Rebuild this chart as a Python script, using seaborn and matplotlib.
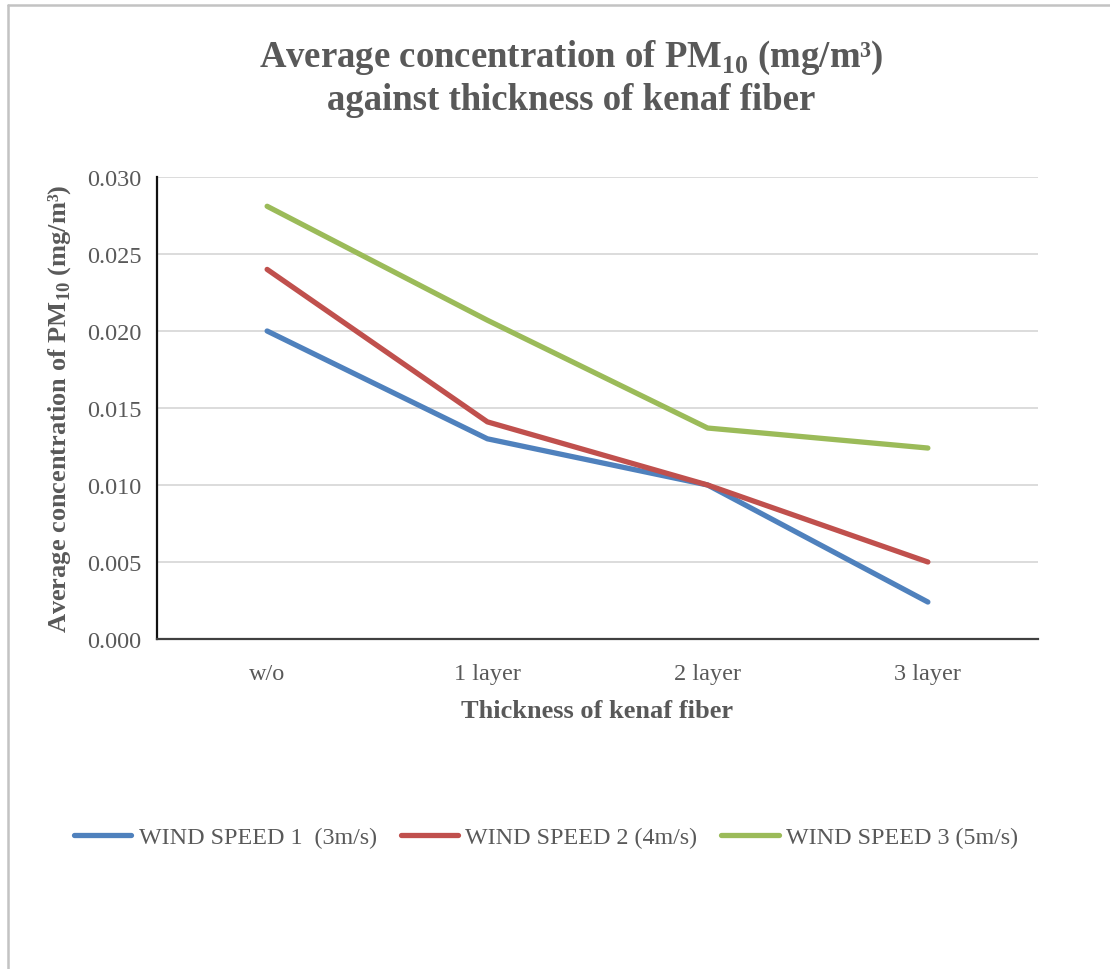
import matplotlib
matplotlib.use("Agg")
import matplotlib.pyplot as plt
from matplotlib.lines import Line2D
import pandas as pd
import seaborn as sns

# Data
thickness = ["w/o", "1 layer", "2 layer", "3 layer"]
series_names = ["WIND SPEED 1  (3m/s)", "WIND SPEED 2 (4m/s)", "WIND SPEED 3 (5m/s)"]
wind1 = [0.0200, 0.0130, 0.0100, 0.0024]
wind2 = [0.0240, 0.0141, 0.0100, 0.0050]
wind3 = [0.0281, 0.0207, 0.0137, 0.0124]
y_ticks = [0.000, 0.005, 0.010, 0.015, 0.020, 0.025, 0.030]
colors = ["#4F81BD", "#C0504D", "#9BBB59"]

rows = []
for name, vals in zip(series_names, [wind1, wind2, wind3]):
    for cat, v in zip(thickness, vals):
        rows.append({"Thickness": cat, "Concentration": v, "Series": name})
df = pd.DataFrame(rows)

sns.set_theme(style="white")
plt.rcParams["font.family"] = ["Liberation Serif", "DejaVu Serif"]
plt.rcParams["mathtext.fontset"] = "custom"
plt.rcParams["mathtext.rm"] = "Liberation Serif"
plt.rcParams["mathtext.bf"] = "Liberation Serif:bold"

text_grey = "#595959"

fig = plt.figure(figsize=(11.1, 9.7), dpi=100)
ax = fig.add_axes([157 / 1110, 1 - 640 / 970, (1038 - 157) / 1110, (640 - 178) / 970])

sns.lineplot(data=df, x="Thickness", y="Concentration", hue="Series",
             palette=colors, linewidth=3.8, ax=ax, sort=False,
             solid_capstyle="round", legend=False)

ax.set_xlim(-0.5, 3.5)
ax.set_ylim(0, 0.030)
ax.set_yticks(y_ticks)
ax.set_yticklabels([f"{t:.3f}" for t in y_ticks], fontsize=17.5, color=text_grey)
ax.set_xticks(range(len(thickness)))
ax.set_xticklabels(thickness, fontsize=17.5, color=text_grey)
ax.tick_params(axis="y", length=0, pad=11)
ax.tick_params(axis="x", length=0, pad=17)

ax.grid(axis="y", color="#d9d9d9", linewidth=1.3)
ax.set_axisbelow(True)
for side in ["top", "right"]:
    ax.spines[side].set_visible(False)
ax.spines["left"].set_color("#111111")
ax.spines["left"].set_linewidth(1.6)
ax.spines["bottom"].set_color("#404040")
ax.spines["bottom"].set_linewidth(1.6)

ax.set_xlabel("Thickness of kenaf fiber", fontsize=19, fontweight="bold",
              color=text_grey)
ax.xaxis.set_label_coords(0.50, (640 - 712) / (640 - 178), transform=ax.transAxes)
ax.xaxis.label.set_va("center")
ax.set_ylabel(r"Average concentration of PM$_{\mathbf{10}}$ (mg/m³)", fontsize=19,
              fontweight="bold", color=text_grey)
ax.yaxis.set_label_coords((60 - 157) / (1038 - 157), 0.50)
ax.yaxis.label.set_va("center")

fig.text(571 / 1110, 1 - 58 / 970,
         r"Average concentration of PM$_{\mathbf{10}}$ (mg/m³)",
         ha="center", va="center", fontsize=26.5, fontweight="bold", color=text_grey)
fig.text(571 / 1110, 1 - 101 / 970, "against thickness of kenaf fiber",
         ha="center", va="center", fontsize=26.5, fontweight="bold", color=text_grey)

handles = [Line2D([0], [0], color=c, linewidth=3.8, solid_capstyle="round")
           for c in colors]
fig.legend(handles, series_names, loc="center", bbox_to_anchor=(546 / 1110, 1 - 838 / 970),
           ncol=3, frameon=False, fontsize=17.3, labelcolor=text_grey,
           handlelength=2.4, handletextpad=0.3, columnspacing=1.0)

# Outer chart frame (left and top edges)
fig.add_artist(Line2D([7.5 / 1110, 7.5 / 1110], [0, 1 - 6 / 970],
                      transform=fig.transFigure, color="#c3c3c3", linewidth=1.8))
fig.add_artist(Line2D([7.5 / 1110, 1], [1 - 6 / 970, 1 - 6 / 970],
                      transform=fig.transFigure, color="#c3c3c3", linewidth=1.8))

fig.savefig("out.png", dpi=100, facecolor="white")
